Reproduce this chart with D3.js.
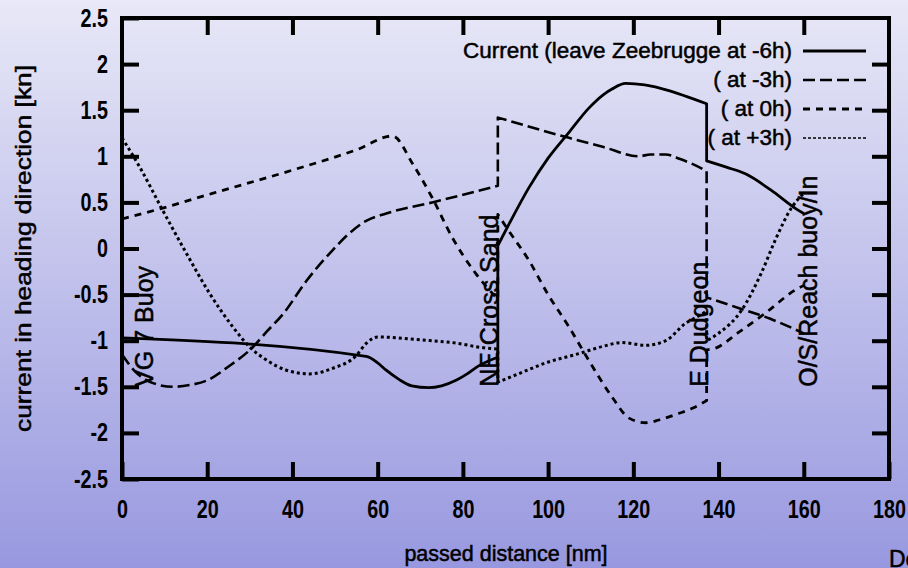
<!DOCTYPE html>
<html>
<head>
<meta charset="utf-8">
<script src="https://cdn.jsdelivr.net/npm/d3@7"></script>
<style>
  html, body { margin: 0; padding: 0; }
  body { width: 908px; height: 568px; overflow: hidden; }
  svg { display: block; }
</style>
</head>
<body>
<svg id="chart"></svg>
<script>
// axis ticks
const xTicks = [0, 20, 40, 60, 80, 100, 120, 140, 160, 180];
const yTicks = [-2.5, -2, -1.5, -1, -0.5, 0, 0.5, 1, 1.5, 2, 2.5];
const yTickLabels = ["-2.5", "-2", "-1.5", "-1", "-0.5", "0", "0.5", "1", "1.5", "2", "2.5"];

// legend names
const seriesNames = ["Current (leave Zeebrugge at -6h)", "( at -3h)", "( at 0h)", "( at +3h)"];

// [passed distance nm, current kn] -- a repeated distance is a jump at a waypoint
const leaveMinus6 = [[0, -0.97], [57.3, -1.17], [60, -1.24], [62, -1.32], [65, -1.42], [68, -1.49], [72, -1.51],
  [75, -1.49], [78.4, -1.43], [81, -1.36], [83.8, -1.27], [86, -1.22], [88.2, -1.18], [88.2, -1.45], [88.2, 0.03],
  [91, 0.28], [95.5, 0.66], [100, 0.98], [104.9, 1.26], [109.5, 1.52], [113, 1.67], [115, 1.73], [118.2, 1.79],
  [137.2, 1.57], [137.2, 0.95], [142, 0.88], [146.3, 0.81], [152.4, 0.63], [158.2, 0.43], [160, 0.38]];

const leaveMinus3 = [[0, -1.15], [3, -1.33], [7.3, -1.46], [12, -1.5], [16, -1.48], [20, -1.43], [25, -1.28],
  [30.7, -1.07], [34, -0.9], [37.8, -0.71], [43.3, -0.35], [49.4, -0.02], [53, 0.15], [57.3, 0.3], [62, 0.38],
  [72.8, 0.5], [88.2, 0.68], [88.2, 1.42], [104.9, 1.2], [113, 1.1], [121.3, 1.0], [124, 1.02], [127.6, 1.02],
  [131, 0.97], [133.7, 0.92], [137.2, 0.84], [137.2, -0.53], [145, -0.65], [152, -0.76], [160, -0.92]];

const leaveZero = [[0, 0.32], [8.9, 0.43], [21.4, 0.6], [40, 0.85], [55, 1.07], [63.5, 1.22], [68.2, 0.92],
  [72.8, 0.55], [77.5, 0.12], [83, -0.27], [88.2, -0.55], [88.2, 0.37], [90.8, 0.19], [95.5, -0.13], [100, -0.5],
  [104.9, -0.85], [109.5, -1.21], [115, -1.61], [119, -1.84], [122.9, -1.89], [126, -1.86], [130.6, -1.79],
  [134, -1.73], [137.2, -1.65], [137.2, -1.1], [139.3, -1.08], [144.7, -0.91], [151, -0.7], [158, -0.45], [160, -0.4]];

const leavePlus3 = [[0, 1.2], [4.2, 0.88], [9.6, 0.41], [15.2, -0.06], [20.6, -0.49], [26, -0.85], [30, -1.07],
  [33.9, -1.21], [38.6, -1.32], [44, -1.36], [49.4, -1.3], [55, -1.16], [57.3, -1.03], [60, -0.96], [70, -0.99],
  [79, -1.03], [83.8, -1.07], [88.2, -1.09], [88.2, -1.45], [93, -1.36], [99.5, -1.24], [107.2, -1.14], [113, -1.06],
  [117.3, -1.02], [122.9, -1.05], [127.6, -1.0], [132.3, -0.81], [135, -0.74], [137.2, -0.68], [137.2, -1.0],
  [140, -0.92], [145.4, -0.67], [150, -0.27], [153.3, 0.09], [157.1, 0.44], [160, 0.6]];

// waypoint labels
const waypoints = ["VG 7 Buoy", "NE Cross Sand", "E Dudgeon", "O/S/Reach buoy/In"];
const waypointAt = [7.3, 88.2, 137.5, 163];

const width = 908;
const height = 568;
const margin = { top: 18, right: 19, bottom: 89, left: 122 };

const svg = d3.select("#chart")
    .attr("width", width)
    .attr("height", height);

// background gradient
const grad = svg.append("defs").append("linearGradient")
    .attr("id", "bg")
    .attr("x1", 0).attr("y1", 0).attr("x2", 0).attr("y2", 1);
grad.append("stop").attr("offset", 0).attr("stop-color", "#e8e8f7");
grad.append("stop").attr("offset", 1).attr("stop-color", "#9898e0");
svg.append("rect").attr("width", width).attr("height", height).attr("fill", "url(#bg)");

const x = d3.scaleLinear().domain([0, 180]).range([margin.left, width - margin.right]);
const y = d3.scaleLinear().domain([-2.5, 2.5]).range([height - margin.bottom, margin.top]);

const textFont = '"Liberation Sans", Arial, sans-serif';
const squeeze = 0.79; // tick labels are narrow

function styleAxis(g) {
  g.select(".domain").remove();
  g.selectAll(".tick line").attr("stroke", "#000").attr("stroke-width", 4);
  g.selectAll(".tick text")
      .attr("fill", "#000")
      .style("font-family", textFont)
      .style("font-weight", "bold")
      .style("font-size", "25px");
}

// axes, ticks pointing inward on all four sides
svg.append("g")
    .attr("transform", `translate(0, ${y(-2.5)})`)
    .call(d3.axisBottom(x).tickValues(xTicks).tickSize(-17).tickPadding(21).tickFormat(d3.format("d")))
    .call(styleAxis)
    .call(g => g.selectAll(".tick text").attr("transform", `scale(${squeeze},1)`));

svg.append("g")
    .attr("transform", `translate(0, ${y(2.5)})`)
    .call(d3.axisTop(x).tickValues(xTicks.slice(1, -1)).tickSize(-17).tickFormat(""))
    .call(styleAxis);

svg.append("g")
    .attr("transform", `translate(${x(0)}, 0)`)
    .call(d3.axisLeft(y).tickValues(yTicks).tickSize(-17).tickPadding(14)
        .tickFormat((d, i) => yTickLabels[i]))
    .call(styleAxis)
    .call(g => g.selectAll(".tick text")
        .attr("x", -14 / squeeze)
        .attr("transform", `scale(${squeeze},1)`));

svg.append("g")
    .attr("transform", `translate(${x(180)}, 0)`)
    .call(d3.axisRight(y).tickValues(yTicks.slice(1, -1)).tickSize(-17).tickFormat(""))
    .call(styleAxis);

// the series; a repeated x value is drawn as a straight vertical jump
const curve = d3.line().x(d => x(d[0])).y(d => y(d[1])).curve(d3.curveMonotoneX);

function jumpPath(points) {
  let parts = [[points[0]]];
  for (let i = 1; i < points.length; i++) {
    if (points[i][0] === points[i - 1][0]) parts.push([]);
    parts[parts.length - 1].push(points[i]);
  }
  return parts.map((p, i) => {
    let s = p.length === 1 ? `M${x(p[0][0])},${y(p[0][1])}` : curve(p);
    s = s.replace(/Z$/, "");
    return i === 0 ? s : "L" + s.slice(1);
  }).join("");
}

const series = [leaveMinus6, leaveMinus3, leaveZero, leavePlus3];
const dashes = [null, "12,5", "7,6", "3,3"];
const widths = [2.8, 2.6, 2.8, 3];

svg.selectAll(".series")
    .data(series)
    .enter().append("path")
    .attr("class", "series")
    .attr("d", d => jumpPath(d))
    .attr("fill", "none")
    .attr("stroke", "#000")
    .attr("stroke-width", (d, i) => widths[i])
    .attr("stroke-dasharray", (d, i) => dashes[i])
    .attr("stroke-linejoin", "round");

// waypoint labels, written upwards
svg.selectAll(".waypoint")
    .data(waypoints)
    .enter().append("text")
    .attr("class", "waypoint")
    .attr("transform", (d, i) => `translate(${x(waypointAt[i])}, ${y(-1.5)}) rotate(-90)`)
    .style("font-family", textFont)
    .style("font-size", "25px")
    .attr("fill", "#000")
    .attr("stroke", "#000")
    .attr("stroke-width", 0.5)
    .text(d => d);

// frame
svg.append("rect")
    .attr("x", x(0)).attr("y", y(2.5))
    .attr("width", x(180) - x(0)).attr("height", y(-2.5) - y(2.5))
    .attr("fill", "none").attr("stroke", "#000").attr("stroke-width", 4);

// legend
const legend = svg.append("g");
const legendRows = [51, 80, 109, 138];
const legendDash = [null, "12,5", "7,6", "3,2"];
const legendWidth = [2.8, 2.6, 2.8, 1.6];

seriesNames.forEach((name, i) => {
  legend.append("text")
      .attr("x", 792).attr("y", legendRows[i] + 7)
      .attr("text-anchor", "end")
      .style("font-family", textFont)
      .style("font-size", "22.5px")
      .attr("fill", "#000")
      .attr("stroke", "#000")
      .attr("stroke-width", 0.5)
      .text(name);
  legend.append("line")
      .attr("x1", 803).attr("x2", 866)
      .attr("y1", legendRows[i]).attr("y2", legendRows[i])
      .attr("stroke", "#000")
      .attr("stroke-width", legendWidth[i])
      .attr("stroke-dasharray", legendDash[i]);
});

// axis titles
svg.append("text")
    .attr("x", 506).attr("y", 561)
    .attr("text-anchor", "middle")
    .style("font-family", textFont)
    .style("font-size", "21.5px")
    .attr("fill", "#000")
    .attr("stroke", "#000")
    .attr("stroke-width", 0.5)
    .text("passed distance [nm]");

svg.append("text")
    .attr("transform", `translate(31, ${y(0)}) rotate(-90)`)
    .attr("text-anchor", "middle")
    .style("font-family", textFont)
    .style("font-size", "22px")
    .attr("textLength", 367)
    .attr("lengthAdjust", "spacingAndGlyphs")
    .attr("fill", "#000")
    .attr("stroke", "#000")
    .attr("stroke-width", 0.5)
    .text("current in heading direction [kn]");

// partly cut-off text in the corner, as in the source image
svg.append("text")
    .attr("x", 889).attr("y", 567)
    .style("font-family", textFont)
    .style("font-size", "23px")
    .attr("fill", "#000")
    .attr("stroke", "#000")
    .attr("stroke-width", 0.5)
    .text("De");
</script>
</body>
</html>
